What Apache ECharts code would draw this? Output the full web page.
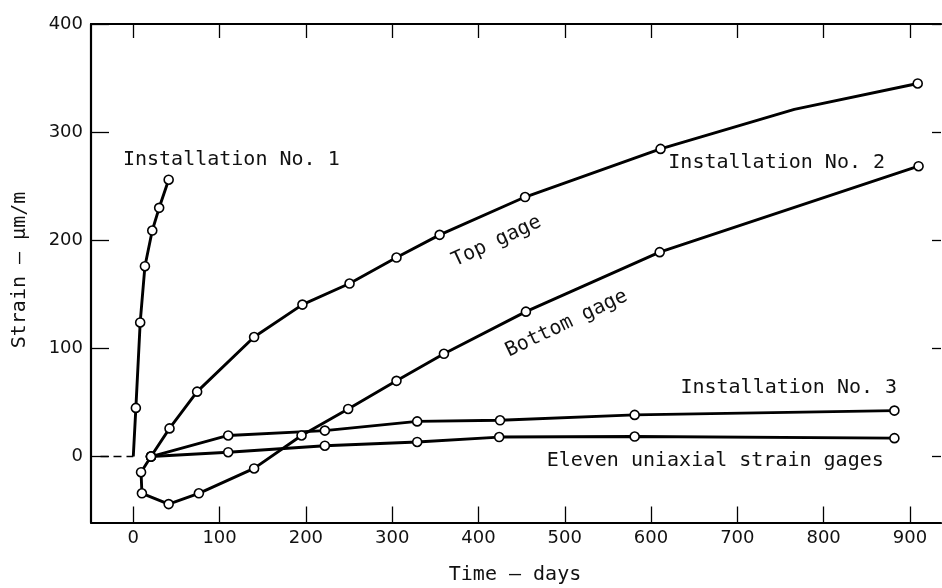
<!DOCTYPE html>
<html>
<head>
<meta charset="utf-8">
<script src="https://cdn.jsdelivr.net/npm/echarts@6/dist/echarts.min.js"></script>
<style>html,body{margin:0;padding:0;background:#fff}#c{width:942px;height:588px}</style>
</head>
<body>
<div id="c"></div>
<script>
// ---- data ----
var xTicks = [0, 100, 200, 300, 400, 500, 600, 700, 800, 900];
var yTicks = [0, 100, 200, 300, 400];
var installation1 = [[0, 0], [3, 45], [8, 124], [13.5, 176], [22, 209], [30, 230], [41, 256]];
var installation1HiddenMarker = [0];
var topGage = [[20.5, 0], [42, 26], [74, 60], [140, 110.5], [196, 140.5], [250.6, 160], [305, 184], [355, 205], [454, 240], [611, 284.5], [766, 321], [909, 345]];
var topGageHiddenMarker = [766];
var bottomGage = [[20.5, 0], [9, -14.5], [10, -34], [41, -44], [76, -34], [140, -11], [195, 19.5], [249, 44], [305, 70], [360, 95], [455, 134], [610, 189], [910, 268.5]];
var installation3 = [[20.5, 0], [110, 19.5], [222, 24], [329, 32.5], [425, 33.5], [581, 38.5], [882, 42.5]];
var elevenGages = [[20.5, 0], [110, 4], [222, 10], [329, 13.5], [424, 18], [581, 18.5], [882, 17]];
var zeroDashed = [[-38, 0], [0, 0]];
var annotations = [
  {text: 'Installation No. 1', x: -12, y: 274, rot: 0, align: 'left'},
  {text: 'Installation No. 2', x: 620, y: 271.5, rot: 0, align: 'left'},
  {text: 'Installation No. 3', x: 634, y: 63.5, rot: 0, align: 'left'},
  {text: 'Eleven uniaxial strain gages', x: 479, y: -4, rot: 0, align: 'left'},
  {text: 'Top gage', x: 421, y: 199, rot: 25, align: 'center'},
  {text: 'Bottom gage', x: 502, y: 123, rot: 25.5, align: 'center'}
];
var xTitle = 'Time \u2014 days';
var yTitle = 'Strain \u2014 \u03bcm/m';

// ---- chart ----
var chart = echarts.init(document.getElementById('c'), null, {renderer: 'canvas'});
var MONO = 'DejaVu Sans Mono';
var ink = '#111';

function lineSeries(data, hidden) {
  hidden = hidden || [];
  return {
    type: 'line',
    xAxisIndex: 0, yAxisIndex: 0,
    data: data.map(function (p) {
      return hidden.indexOf(p[0]) >= 0 ? {value: p, symbol: 'none'} : {value: p};
    }),
    showAllSymbol: true,
    symbol: 'circle', symbolSize: 9,
    itemStyle: {color: '#fff', borderColor: '#000', borderWidth: 1.6},
    lineStyle: {color: '#000', width: 2.9},
    silent: true, animation: false, z: 3
  };
}

var axisLineStyle = {show: true, onZero: false, lineStyle: {color: '#000', width: 2.2}};
var tickStyle = {color: '#000', width: 1.3};

var option = {
  backgroundColor: '#fff',
  animation: false,
  grid: {left: 91, top: 24, right: 1, height: 498.5},
  xAxis: [
    {type: 'value', position: 'bottom', min: -49, max: 936,
     axisLine: axisLineStyle,
     axisTick: {show: true, inside: true, length: 16, customValues: xTicks, lineStyle: tickStyle},
     axisLabel: {customValues: xTicks, color: ink, fontFamily: 'DejaVu Sans', fontSize: 18, margin: 7},
     splitLine: {show: false}},
    {type: 'value', position: 'top', min: -49, max: 936,
     axisLine: axisLineStyle,
     axisTick: {show: true, inside: true, length: 14, customValues: xTicks, lineStyle: tickStyle},
     axisLabel: {show: false}, splitLine: {show: false}}
  ],
  yAxis: [
    {type: 'value', position: 'left', min: -61, max: 400,
     axisLine: axisLineStyle,
     axisTick: {show: true, inside: true, length: 18, customValues: yTicks, lineStyle: tickStyle},
     axisLabel: {customValues: yTicks, color: ink, fontFamily: 'DejaVu Sans', fontSize: 18, margin: 8},
     splitLine: {show: false}},
    {type: 'value', position: 'right', min: -61, max: 400,
     axisLine: {show: false, onZero: false},
     axisTick: {show: true, inside: true, length: 9, customValues: yTicks, lineStyle: tickStyle},
     axisLabel: {show: false}, splitLine: {show: false}}
  ],
  series: [
    {type: 'line', data: zeroDashed, symbol: 'none', silent: true,
     lineStyle: {color: '#000', width: 1.6, type: [8, 5]}, z: 2},
    lineSeries(installation1, installation1HiddenMarker),
    lineSeries(topGage, topGageHiddenMarker),
    lineSeries(bottomGage),
    lineSeries(installation3),
    lineSeries(elevenGages)
  ]
};
chart.setOption(option);

var graphics = annotations.map(function (a) {
  var p = chart.convertToPixel({xAxisIndex: 0, yAxisIndex: 0}, [a.x, a.y]);
  return {
    type: 'text', x: p[0], y: p[1], rotation: a.rot * Math.PI / 180,
    style: {text: a.text, fill: ink, font: '20px "' + MONO + '"', textAlign: a.align, textVerticalAlign: 'middle'},
    z: 10
  };
});
graphics.push({type: 'text', x: 515, y: 575,
  style: {text: xTitle, fill: ink, font: '20px "' + MONO + '"', textAlign: 'center', textVerticalAlign: 'middle'}});
graphics.push({type: 'text', x: 20, y: 270, rotation: Math.PI / 2,
  style: {text: yTitle, fill: ink, font: '20px "' + MONO + '"', textAlign: 'center', textVerticalAlign: 'middle'}});
chart.setOption({graphic: graphics});
</script>
</body>
</html>
